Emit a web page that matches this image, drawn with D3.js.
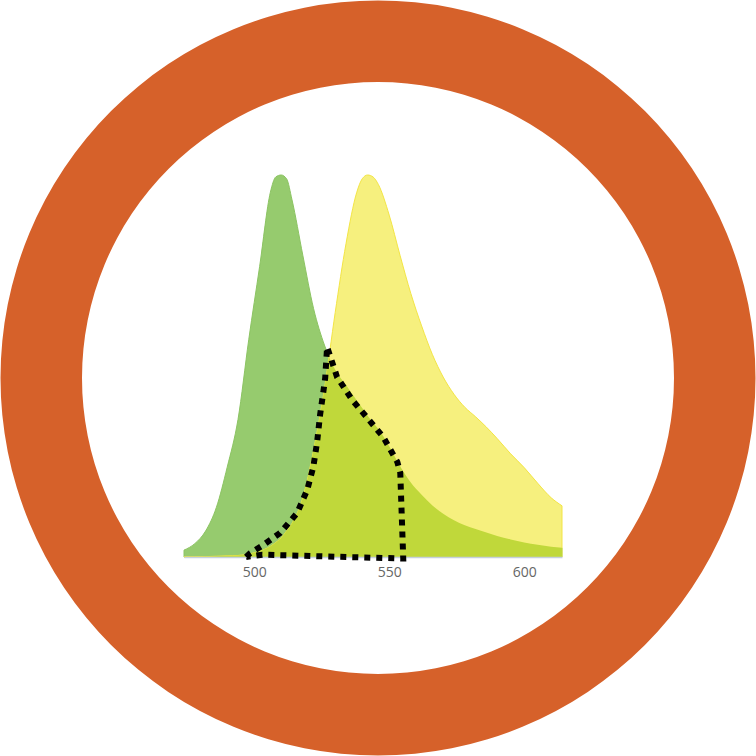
<!DOCTYPE html>
<html>
<head>
<meta charset="utf-8">
<script src="https://cdn.jsdelivr.net/npm/d3@7/dist/d3.min.js"></script>
<style>
html, body { margin: 0; padding: 0; background: #ffffff; }
svg { display: block; }
</style>
</head>
<body>
<svg id="chart" width="756" height="756"></svg>
<script>
// Wavelength grid (nm)
const wavelengths = [474, 478, 482, 486, 490, 494, 498, 502, 506, 508, 510, 512, 514, 518, 522, 526, 530, 534, 538, 540, 542, 544, 546, 550, 554, 558, 562, 566, 570, 574, 578, 582, 586, 590, 595, 600, 605, 610, 614];
// Normalized spectrum, green (peak ~510 nm)
const greenValues = [0.018, 0.035, 0.068, 0.13, 0.235, 0.36, 0.57, 0.76, 0.955, 0.995, 1.0, 0.99, 0.935, 0.79, 0.65, 0.555, 0.49, 0.45, 0.41, 0.39, 0.37, 0.352, 0.335, 0.29, 0.238, 0.195, 0.163, 0.135, 0.113, 0.096, 0.083, 0.073, 0.064, 0.055, 0.046, 0.038, 0.032, 0.027, 0.024];
// Normalized spectrum, yellow (peak ~542 nm)
const yellowValues = [0, 0, 0.001, 0.002, 0.003, 0.004, 0.008, 0.015, 0.028, 0.038, 0.05, 0.068, 0.088, 0.155, 0.28, 0.44, 0.64, 0.82, 0.955, 0.99, 1.0, 0.995, 0.975, 0.895, 0.79, 0.69, 0.605, 0.53, 0.471, 0.426, 0.392, 0.367, 0.34, 0.31, 0.27, 0.234, 0.193, 0.155, 0.134];
// Dotted outline of the overlap region: [nm, value]
const outlineWavelengths = [497.0, 498.5, 503.3, 509.6, 515.9, 519.6, 521.9, 523.3, 524.4, 525.6, 526.3, 527.0, 530.7, 536.3, 541.9, 547.8, 553.0, 554.1, 555.2, 503.0, 497.0];
const outlineValues = [0, 0.010, 0.031, 0.063, 0.115, 0.175, 0.236, 0.301, 0.372, 0.432, 0.469, 0.550, 0.471, 0.411, 0.364, 0.314, 0.249, 0.220, -0.004, 0.006, 0];
// Axis ticks
const tickLabels = [500, 550, 600];

const svg = d3.select("#chart");
const W = 756, H = 756;

// Ring
svg.append("path")
  .attr("transform", `translate(${W/2},${H/2})`)
  .attr("d", d3.arc()({ innerRadius: 296, outerRadius: 377.5, startAngle: 0, endAngle: 2 * Math.PI }))
  .attr("fill", "#d6612a");

const x = d3.scaleLinear().domain([474, 614]).range([184, 562]);
const y = d3.scaleLinear().domain([0, 1]).range([557, 175]);

const green = wavelengths.map((w, i) => ({ w, v: greenValues[i] }));
const yellow = wavelengths.map((w, i) => ({ w, v: yellowValues[i] }));
const outline = outlineWavelengths.map((w, i) => ({ w, v: outlineValues[i] }));

const area = d3.area()
  .x(d => x(d.w))
  .y0(y(0))
  .y1(d => y(d.v))
  .curve(d3.curveMonotoneX);

const defs = svg.append("defs");
defs.append("clipPath").attr("id", "greenClip")
  .append("path").attr("d", area(green));

svg.append("path").attr("d", area(green))
  .attr("fill", "#96cb6e").attr("stroke", "#8cc463").attr("stroke-width", 1);
svg.append("path").attr("d", area(yellow))
  .attr("fill", "#f6f07e").attr("stroke", "#f3e545").attr("stroke-width", 1);
// Overlap: yellow area clipped to green area
svg.append("path").attr("d", area(yellow))
  .attr("clip-path", "url(#greenClip)")
  .attr("fill", "#c0d83a");

// Axis
const axis = d3.axisBottom(x).tickValues(tickLabels).tickSize(0).tickPadding(10).tickSizeOuter(0);
const gAxis = svg.append("g").attr("transform", `translate(0,${y(0)})`).call(axis);
gAxis.select(".domain").attr("stroke", "#c5d0dc").attr("stroke-width", 1.5);
gAxis.selectAll("text")
  .attr("fill", "#666666")
  .attr("font-family", "'Open Sans', 'Liberation Sans', sans-serif")
  .attr("font-size", 14);

// Dotted overlap outline
const line = d3.line().x(d => x(d.w)).y(d => y(d.v)).curve(d3.curveLinear);
svg.append("path").attr("d", line(outline))
  .attr("fill", "none")
  .attr("stroke", "#000000")
  .attr("stroke-width", 6)
  .attr("stroke-dasharray", "6,6")
  .attr("stroke-linejoin", "miter");
</script>
</body>
</html>
